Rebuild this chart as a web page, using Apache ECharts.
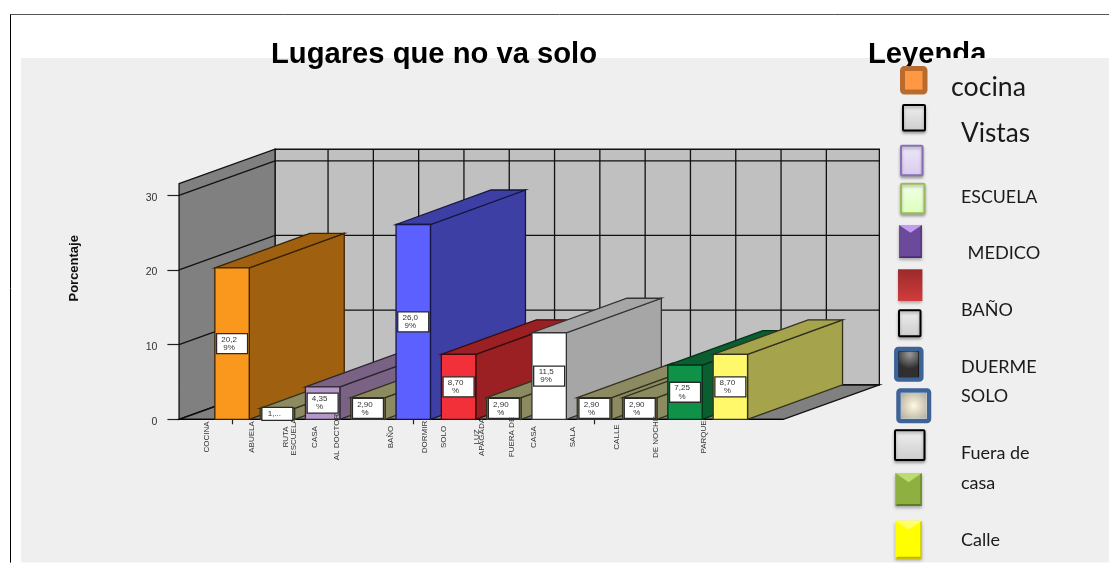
<!DOCTYPE html>
<html>
<head>
<meta charset="utf-8">
<style>html,body{margin:0;padding:0;background:#fff}#chart{width:1109px;height:563px}</style>
<script src="https://cdn.jsdelivr.net/npm/echarts@6/dist/echarts.min.js"></script>
</head>
<body>
<div id="chart"></div>
<script>
// ---- data ----
const categories = ["COCINA","ABUELA","RUTA ESCUELA","CASA AL DOCTOR","BAÑO","DORMIR SOLO","LUZ APAGADA","FUERA DE CASA","SALA","CALLE","DE NOCHE","PARQUE"];
const values = [20.29,1.45,4.35,2.90,26.09,8.70,2.90,11.59,2.90,2.90,7.25,8.70];
const valueLabels = ["20,2\n9%","1,...","4,35\n%","2,90\n%","26,0\n9%","8,70\n%","2,90\n%","11,5\n9%","2,90\n%","2,90\n%","7,25\n%","8,70\n%"];
const yTicks = [0,10,20,30];
const legendLabels = ["cocina","Vistas","","ESCUELA","MEDICO","BAÑO","","DUERME","SOLO","Fuera de","casa","Calle"];

// ---- styles / layout ----
const frontColors = ["#F9981D","#8C8A60","#B598C8","#8C8A60","#5B60FF","#F23039","#8C8A60","#FFFFFF","#8C8A60","#8C8A60","#0F9148","#FFF86B"];
const sideColors  = ["#9F6010","#8C8A60","#796283","#8C8A60","#3D3FA5","#9A2024","#8C8A60","#A6A6A6","#8C8A60","#8C8A60","#0A5E30","#A5A34C"];
const edgeColors  = ["#3a2406","#33321f","#2e2632","#33321f","#16173f","#3a0c0e","#33321f","#333333","#33321f","#33321f","#04301a","#33321f"];
// label lines rotate up the axis, each with its own sideways shift from the tick
const labelLines = [["COCINA"],["ABUELA"],["RUTA","ESCUELA"],["CASA","AL DOCTOR"],["BAÑO"],["DORMIR","SOLO"],["LUZ","APAGADA"],["FUERA DE","CASA"],["SALA"],["CALLE"],["DE NOCHE"],["PARQUE"]];
const labelShift = [[-25.5],[-26],[-37,-29],[-53,-31],[-22],[-34,-15],[-27.5,-22],[-37,-15],[-21.3],[-22.6],[-29.7],[-27]];
const DX = 96, DY = -34.5, LEAD = 53, BAR_W = 34.4, WALL_TOP = 31.55, LINE = "#111";
const LW = 1.3;
const FONT = "'Liberation Sans', Arial, sans-serif", LEG_FONT = "Lato, 'Open Sans', sans-serif";

function poly(points, fill, stroke, lw) {
  return {type:'polygon', shape:{points}, style:{fill, stroke: stroke || LINE, lineWidth: lw === undefined ? LW : lw}};
}
function seg(x1,y1,x2,y2,color) {
  return {type:'line', shape:{x1,y1,x2,y2}, style:{stroke: color || LINE, lineWidth:LW, fill:null}};
}

function renderChamber(params, api) {
  const a = api.coord([0,0]), b = api.coord([categories.length-1,0]), topY = api.coord([0,WALL_TOP])[1];
  const xL = a[0]-LEAD, xR = b[0]+LEAD, y0 = a[1];
  const kids = [
    poly([[xL+DX,topY+DY],[xR+DX,topY+DY],[xR+DX,y0+DY],[xL+DX,y0+DY]],'#C0C0C0'),
    poly([[xL,topY],[xL+DX,topY+DY],[xL+DX,y0+DY],[xL,y0]],'#808080'),
    poly([[xL,y0],[xL+DX,y0+DY],[xR+DX,y0+DY],[xR,y0]],'#808080')
  ];
  yTicks.forEach(t => {
    const y = api.coord([0,t])[1];
    kids.push(seg(xL,y,xL+DX,y+DY));
    kids.push(seg(xL+DX,y+DY,xR+DX,y+DY));
  });
  categories.forEach((c,i) => {
    const x = api.coord([i,0])[0]+DX;
    kids.push(seg(x,topY+DY,x,y0+DY));
  });
  kids.push(seg(xL,y0,xR,y0,'#000'));
  return {type:'group', children:kids};
}

function renderBar(params, api) {
  const i = api.value(0), v = api.value(1);
  const base = api.coord([i,0]), top = api.coord([i,v]);
  const l = base[0]-BAR_W/2, r = base[0]+BAR_W/2, b = base[1], t = top[1];
  const e = edgeColors[i], txt = valueLabels[i], two = txt.indexOf('\n') >= 0;
  const boxH = two ? 20 : 13, boxW = 31, cy = (b+t)/2;
  return {type:'group', children:[
    poly([[r,b],[r+DX-1,b+DY],[r+DX-1,t+DY],[r,t]], sideColors[i], e),
    poly([[l,t],[l+DX-1,t+DY],[r+DX-1,t+DY],[r,t]], sideColors[i], e),
    poly([[l,b],[l,t],[r,t],[r,b]], frontColors[i], e),
    {type:'rect', shape:{x:base[0]-boxW/2,y:cy-boxH/2,width:boxW,height:boxH},
      style:{fill:'#fff',stroke:'#2a2a2a',lineWidth:LW}},
    {type:'text', x:base[0]-3, y:cy, style:{text:txt, fill:'#333', fontSize:8, fontFamily:FONT, lineHeight:8.3, align:'center', verticalAlign:'middle'}}
  ]};
}

function renderLabel(params, api) {
  const i = api.value(0), p = api.coord([i,0]);
  return {type:'group', children: labelLines[i].map((s,k) => ({
    type:'text', x:p[0]+labelShift[i][k], y:437, rotation:Math.PI/2,
    style:{text:s, fill:'#333', fontSize:8, fontFamily:FONT, align:'center', verticalAlign:'middle'}
  }))};
}

// ---- legend swatches and page furniture ----
const shadow = {shadowBlur:3, shadowOffsetY:2, shadowColor:'rgba(0,0,0,0.3)'};
function vgrad(c1,c2){return {type:'linear',x:0,y:0,x2:0,y2:1,colorStops:[{offset:0,color:c1},{offset:1,color:c2}]};}
function rgrad(c1,c2,cx,cy){return {type:'radial',x:cx,y:cy,r:0.75,colorStops:[{offset:0,color:c1},{offset:1,color:c2}]};}
function rect(x,y,w,h,fill,stroke,lw,r,extra){
  return Object.assign({type:'rect',shape:{x,y,width:w,height:h,r:r||0},style:Object.assign({fill,stroke:stroke||null,lineWidth:lw||0},extra||{}),z:20});
}
function outlined(x,y,w,h,stroke,lw,c1,c2){
  return rect(x+lw/2,y+lw/2,w-lw,h-lw,vgrad(c1,c2),stroke,lw,1,shadow);
}
function bevel(x,y,w,h,c,light,dark){
  const cx=x+w/2, ins=Math.min(w,h)*0.18;
  return [
    rect(x,y,w,h,c,null,0,0,shadow),
    {type:'polygon',z:21,shape:{points:[[x,y],[x+w,y],[cx,y+ins*1.9]]},style:{fill:light}},
    {type:'polygon',z:21,shape:{points:[[x,y+h],[x+w,y+h],[x+w-ins*.4,y+h-ins*.4],[x+ins*.4,y+h-ins*.4]]},style:{fill:dark}},
    {type:'polygon',z:21,shape:{points:[[x+w,y],[x+w,y+h],[x+w-ins*.4,y+h-ins*.4],[x+w-ins*.4,y+ins*.3]]},style:{fill:dark,opacity:.6}}
  ];
}
function legendText(s,x,cy,size){
  return {type:'text',z:22,x,y:cy,style:{text:s,fill:'#1a1a1a',fontSize:size,fontFamily:LEG_FONT,align:'left',verticalAlign:'middle'}};
}
const graphics = [
  rect(21,58,1088,504.6,'#EFEFEF'),
  {type:'line',z:20,shape:{x1:10,y1:14.5,x2:1109,y2:14.5},style:{stroke:'#555',lineWidth:1}},
  {type:'line',z:20,shape:{x1:10.5,y1:14.5,x2:10.5,y2:562.6},style:{stroke:'#000',lineWidth:1}},
  rect(932,58,70,8,'#EFEFEF')
];
graphics[0].z = -5; graphics[1].z = -5; graphics[2].z = -5;
const swatches = [
  rect(902.5,68.5,22.5,23.5,'#FF9843','#B96B2E',5,2),
  outlined(902,104,24,27.5,'#000',2,'#F0F0F0','#CCCCCC'),
  outlined(900,144.7,23.5,31.5,'#8B6FB4',2,'#EEE8FA','#D8CBEF'),
  outlined(900,182.7,25.5,31.5,'#9BBB59',2,'#F4FFEB','#DCFFBB'),
  ...bevel(899,225,23,33,'#6B4A9B','#C39CF2','#4A2F73'),
  rect(898,269.3,24.4,31.7,vgrad('#9B2A2A','#D23C3C'),null,0,0,shadow),
  outlined(898,309.3,23.5,28,'#000',2,'#F0F0F0','#CCCCCC'),
  rect(896.3,349,25,30.5,'#000','#3E6397',4.5,2),
  rect(899,351.5,19.5,25.5,rgrad('#9A9A9A','#2F2F2F',0.55,0.1)),
  rect(898.5,390.5,30.5,30.5,'#fff','#3E6397',4.5,2),
  rect(901,393,25.5,25.5,rgrad('#FFF9E0','#ABA697',0.5,0.5)),
  outlined(894,429.3,31.5,31.7,'#000',2,'#F0F0F0','#CCCCCC'),
  ...bevel(895.3,473,26.7,33,'#8DB040','#BCDB70','#5F7B27'),
  ...bevel(895.3,520.7,26.7,38,'#FFFF00','#FFFF66','#BDB400')
];
const legendTexts = [
  legendText(legendLabels[0],951,87.5,26.7),
  legendText(legendLabels[1],961,134,26.2),
  legendText(legendLabels[3],961,197,17.8),
  legendText(legendLabels[4],967.5,253,18.2),
  legendText(legendLabels[5],961,310,18),
  legendText(legendLabels[7],961,367,18),
  legendText(legendLabels[8],961,396,18),
  legendText(legendLabels[9],961,453,18),
  legendText(legendLabels[10],961,483,18),
  legendText(legendLabels[11],961,540,18)
];

const option = {
  animation:false,
  backgroundColor:'#fff',
  title:[
    {text:'Lugares que no va solo',left:271,top:40,padding:0,textStyle:{fontFamily:FONT,fontSize:29.2,fontWeight:'bold',color:'#000'}},
    {text:'Leyenda',left:868,top:40,padding:0,textStyle:{fontFamily:FONT,fontSize:29.2,fontWeight:'bold',color:'#000'}}
  ],
  grid:{left:209.4,top:195.3,width:543.6,height:224,containLabel:false},
  xAxis:{type:'category',data:categories,
    axisLine:{show:false},
    axisTick:{show:true,alignWithLabel:true,length:5,lineStyle:{color:'#222',width:1.2}},
    axisLabel:{show:false}},
  yAxis:{type:'value',min:0,max:30,interval:10,offset:30,
    name:'Porcentaje',nameLocation:'middle',nameGap:98,
    nameTextStyle:{fontFamily:FONT,fontSize:13,fontWeight:'bold',color:'#111',padding:[0,0,0,78]},
    axisLine:{show:false},
    axisTick:{show:true,length:12,lineStyle:{color:'#222',width:1.2}},
    splitLine:{show:false},
    axisLabel:{margin:22,fontFamily:FONT,fontSize:10.5,color:'#333',verticalAlign:'top',lineHeight:5}},
  graphic:{elements:[...graphics,...swatches,...legendTexts]},
  series:[
    {type:'custom',name:'chamber',renderItem:renderChamber,data:[[0,0]],encode:{x:0,y:1},z:1,silent:true},
    {type:'custom',name:'Porcentaje',renderItem:renderBar,data:values.map((v,i)=>[i,v]),encode:{x:0,y:1},z:2,silent:true},
    {type:'custom',name:'labels',renderItem:renderLabel,data:categories.map((c,i)=>[i,0]),encode:{x:0,y:1},z:3,silent:true}
  ]
};
echarts.init(document.getElementById('chart'),null,{renderer:'canvas'}).setOption(option);
</script>
</body>
</html>
